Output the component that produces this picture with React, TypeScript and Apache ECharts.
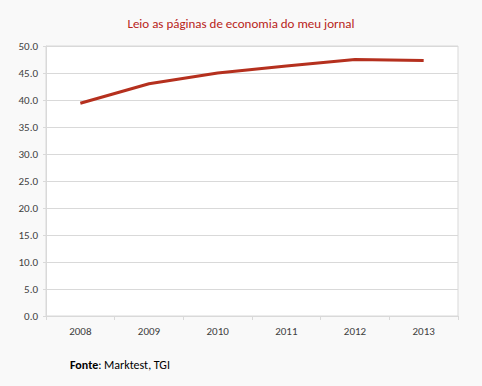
import React, { useEffect, useRef } from "react";
import * as echarts from "echarts";

const years = ["2008", "2009", "2010", "2011", "2012", "2013"];
const values = [39.4, 43.0, 45.0, 46.3, 47.5, 47.3];
const titleText = "Leio as páginas de economia do meu jornal";
const sourceLabel = "Fonte";
const sourceText = ": Marktest, TGI";

const FONT = "Carlito, 'Liberation Sans Narrow', 'Liberation Sans', sans-serif";

export default function App() {
  const ref = useRef<HTMLDivElement>(null);
  useEffect(() => {
    document.body.style.margin = "0";
    const chart = echarts.init(ref.current!, null, { renderer: "svg" });
    chart.setOption({
      animation: false,
      backgroundColor: "#f9f9f9",
      title: {
        text: titleText,
        left: "center",
        top: 12,
        textStyle: { color: "#B8241A", fontSize: 13, fontWeight: 500, fontFamily: FONT },
      },
      grid: {
        left: 46,
        right: 24,
        top: 46,
        bottom: 70,
        show: true,
        backgroundColor: "#ffffff",
        borderColor: "#d9d9d9",
        borderWidth: 1,
      },
      xAxis: {
        type: "category",
        data: years,
        boundaryGap: true,
        axisLine: { lineStyle: { color: "#d9d9d9" } },
        axisTick: { show: true, length: 4, alignWithLabel: false, lineStyle: { color: "#d9d9d9" } },
        axisLabel: { color: "#404040", fontSize: 11, fontFamily: FONT, margin: 10 },
      },
      yAxis: {
        type: "value",
        min: 0,
        max: 50,
        interval: 5,
        axisLine: { show: true, lineStyle: { color: "#d9d9d9" } },
        axisTick: { show: true, length: 3, lineStyle: { color: "#d9d9d9" } },
        splitLine: { lineStyle: { color: "#d9d9d9" } },
        axisLabel: {
          color: "#404040",
          fontSize: 11,
          fontFamily: FONT,
          margin: 8,
          formatter: (v: number) => v.toFixed(1),
        },
      },
      series: [
        {
          type: "line",
          data: values,
          symbol: "none",
          lineStyle: { color: "#B5301E", width: 3 },
        },
      ],
      graphic: [
        {
          type: "text",
          left: 70,
          top: 359,
          style: {
            text: `{b|${sourceLabel}}{r|${sourceText}}`,
            rich: {
              b: { fontWeight: "bold", fontSize: 12, fill: "#000", fontFamily: FONT },
              r: { fontSize: 12, fill: "#000", fontFamily: FONT },
            },
          },
        },
      ],
    });
    return () => chart.dispose();
  }, []);
  return <div ref={ref} style={{ width: 482, height: 386 }} />;
}
